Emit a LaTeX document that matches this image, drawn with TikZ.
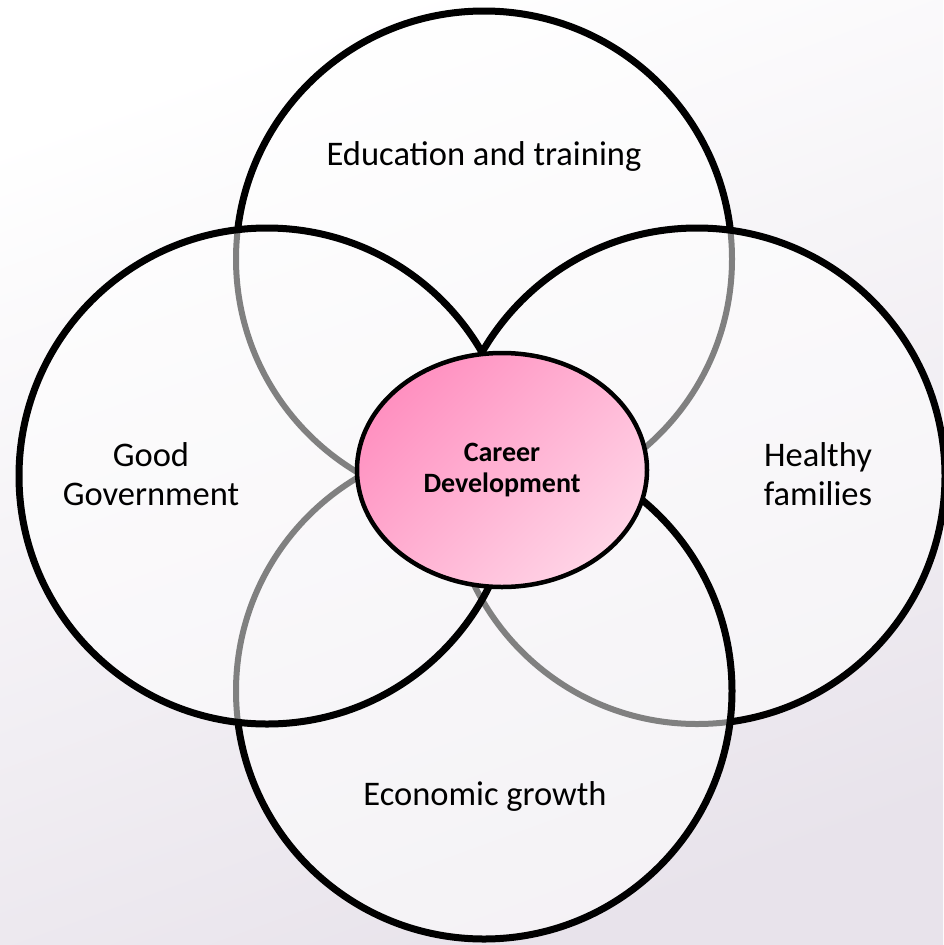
\documentclass[tikz,border=0pt]{standalone}
\usepackage{fontspec}
\setmainfont{Carlito}
\usetikzlibrary{shapes.geometric}
\definecolor{bgbot}{HTML}{E8E3EB}
\definecolor{arcgray}{HTML}{808080}
\definecolor{pinkA}{HTML}{FF90C0}
\definecolor{pinkB}{HTML}{FFD4E6}
\begin{document}
\begin{tikzpicture}[x=1pt,y=-1pt,
  ring/.style={line width=7pt, draw=black},
  under/.style={line width=6pt, draw=arcgray},
  lbl/.style={font=\fontsize{34.5}{39}\selectfont, align=center, text=black, inner sep=0pt},
  core/.style={ellipse, draw=black, line width=4.5pt, minimum width=290pt, minimum height=234pt,
    top color=pinkA, bottom color=pinkB, shading angle=45,
    font=\bfseries\fontsize{28}{31}\selectfont, align=center}]
\useasboundingbox (0,0) rectangle (943,945);
\fill[top color=white, bottom color=bgbot, shading angle=20] (0,0) rectangle (943,945);
\coordinate (T) at (484,259);
\coordinate (B) at (484,691);
\coordinate (L) at (267,476);
\coordinate (R) at (697,476);
\fill[white, fill opacity=0.55] (T) circle (248pt) (B) circle (248pt) (L) circle (248pt) (R) circle (248pt);
% top circle: passes under left and right circles
\begin{scope}[even odd rule]
  \clip (-50,-50) rectangle (1000,1000) (L) circle (248pt) (R) circle (248pt);
  \draw[ring] (T) circle (248pt);
\end{scope}
\begin{scope}\clip (L) circle (248pt); \draw[under] (T) circle (248pt);\end{scope}
\begin{scope}\clip (R) circle (248pt); \draw[under] (T) circle (248pt);\end{scope}
% right circle: passes under bottom circle
\begin{scope}[even odd rule]
  \clip (-50,-50) rectangle (1000,1000) (B) circle (248pt);
  \draw[ring] (R) circle (248pt);
\end{scope}
\begin{scope}\clip (B) circle (248pt); \draw[under] (R) circle (248pt);\end{scope}
% bottom circle: passes under left circle
\begin{scope}[even odd rule]
  \clip (-50,-50) rectangle (1000,1000) (L) circle (248pt);
  \draw[ring] (B) circle (248pt);
\end{scope}
\begin{scope}\clip (L) circle (248pt); \draw[under] (B) circle (248pt);\end{scope}
% left circle: on top
\draw[ring] (L) circle (248pt);
\node[core] (cd) at (502,470) {Career\\Development};
\node[lbl] (edu) at (484,156) {Education and training};
\node[lbl] (gov) at (151,474) {Good\\Government};
\node[lbl] (fam) at (818,474) {Healthy\\families};
\node[lbl] (eco) at (485,796) {Economic growth};
\end{tikzpicture}
\end{document}
